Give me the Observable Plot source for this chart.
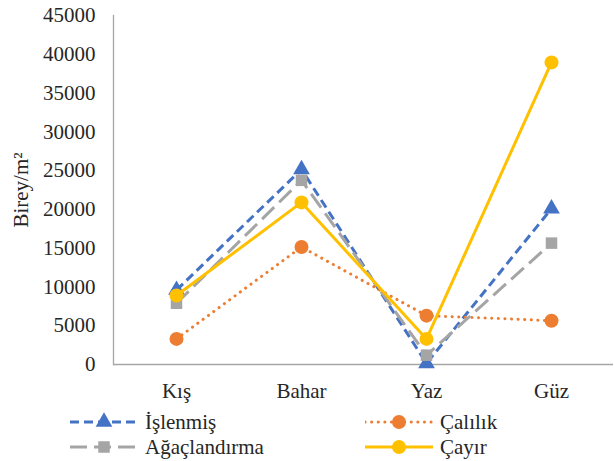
<!DOCTYPE html>
<html><head><meta charset="utf-8">
<script src="https://cdn.jsdelivr.net/npm/d3@7"></script>
<script src="https://cdn.jsdelivr.net/npm/@observablehq/plot@0.6"></script>
<style>
body{margin:0;background:#fff;}
#chart{position:relative;width:614px;height:461px;overflow:hidden;}
#legend{position:absolute;left:0;top:410px;width:614px;height:51px;}
.item{position:absolute;display:flex;align-items:center;height:24px;font:21px 'Liberation Serif';color:#262626;}
.item svg{margin-right:7px;}
</style></head><body><div id="chart"></div>
<script>
const seasons = ["Kış", "Bahar", "Yaz", "Güz"];
const seriesNames = ["İşlenmiş", "Çalılık", "Ağaçlandırma", "Çayır"];
const islenmis = [9600, 25150, 150, 20100];
const calilik = [3300, 15150, 6300, 5650];
const agaclandirma = [7900, 23750, 1200, 15650];
const cayir = [8900, 20900, 3300, 38950];
const yTicks = [0, 5000, 10000, 15000, 20000, 25000, 30000, 35000, 40000, 45000];
const yLabel = "Birey/m²";

const seriesValues = [islenmis, calilik, agaclandirma, cayir];
const styles = [
  {color: "#4472C4", dash: "9,5", symbol: "triangle", r: 6.2, cap: "butt"},
  {color: "#ED7D31", dash: "0.1,6.5", symbol: "circle", r: 7, cap: "round"},
  {color: "#A5A5A5", dash: "17,7", symbol: "square", r: 6.5, cap: "butt"},
  {color: "#FFC000", dash: null, symbol: "circle", r: 7, cap: "butt"}
];
const serif = "Liberation Serif";

const marks = [
  Plot.frame({anchor: "left", stroke: "#A6A6A6", strokeWidth: 1.3}),
  Plot.ruleY([0], {stroke: "#A6A6A6", strokeWidth: 1.3}),
  Plot.axisY({ticks: yTicks, tickSize: 0, tickPadding: 18, tickFormat: d => String(d), label: yLabel, labelAnchor: "center", labelArrow: "none", labelOffset: 100, fontSize: 21}),
  Plot.axisX({tickSize: 0, tickPadding: 19, label: null, fontSize: 21})
];
seriesNames.forEach((name, i) => {
  const data = seasons.map((s, j) => ({season: s, value: seriesValues[i][j]}));
  const st = styles[i];
  marks.push(Plot.line(data, {x: "season", y: "value", stroke: st.color, strokeWidth: 3, strokeDasharray: st.dash, strokeLinecap: st.cap}));
  marks.push(Plot.dot(data, {x: "season", y: "value", fill: st.color, stroke: "none", symbol: st.symbol, r: st.r}));
});

const plot = Plot.plot({
  width: 614, height: 410,
  marginLeft: 113, marginRight: 1, marginTop: 15, marginBottom: 46,
  x: {type: "point", domain: seasons, padding: 0.5},
  y: {domain: [0, 45000]},
  style: {fontSize: "21px", fontFamily: "'Liberation Serif'", color: "#262626", background: "#fff"},
  marks
});
d3.select(plot).selectAll("g, text").attr("font-family", serif).style("font-family", "'Liberation Serif'");
const chart = document.getElementById("chart");
chart.appendChild(plot);

const legend = document.createElement("div");
legend.id = "legend";
chart.appendChild(legend);
const pos = [[70, 0], [365, 0], [70, 25], [365, 25]];
seriesNames.forEach((name, i) => {
  const st = styles[i];
  const it = document.createElement("div");
  it.className = "item";
  it.style.left = pos[i][0] + "px";
  it.style.top = pos[i][1] + "px";
  const sym = d3.symbol(st.symbol === "triangle" ? d3.symbolTriangle : st.symbol === "square" ? d3.symbolSquare : d3.symbolCircle, Math.PI * st.r * st.r)();
  it.innerHTML = `<svg width="68" height="20"><line x1="0" x2="68" y1="10" y2="10" stroke="${st.color}" stroke-width="3" ${st.dash ? `stroke-dasharray="${st.dash}"` : ""} stroke-linecap="${st.cap}"/><path d="${sym}" transform="translate(34,10)" fill="${st.color}"/></svg><span>${name}</span>`;
  legend.appendChild(it);
});
</script></body></html>
